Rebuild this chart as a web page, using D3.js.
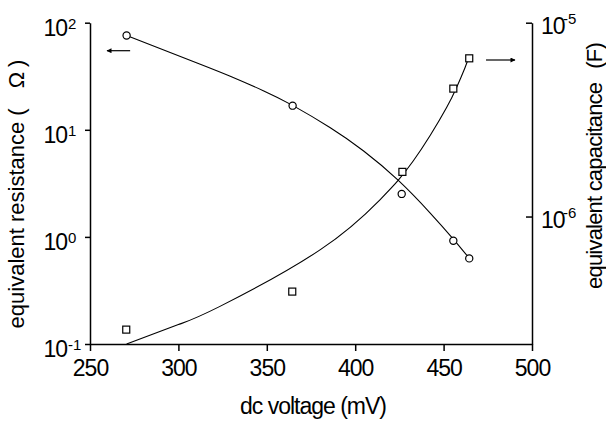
<!DOCTYPE html>
<meta charset="utf-8">
<script src="https://d3js.org/d3.v7.min.js"></script>
<style>
    body {
        margin: 0;
        padding: 0;
        background: #fff;
    }

    text {
        font-family: 'Liberation Sans', Arial, sans-serif;
        fill: #000;
    }
</style>

<body>
    <svg width="606" height="421"></svg>
    <script>

        // puntos medidos: resistencia (circulos) y capacitancia (cuadrados)
        var resVolt = [270.7, 364.6, 426.3, 455.5, 464.5];
        var resOhm = [76, 16.8, 2.52, 0.92, 0.63];
        var capVolt = [270.5, 364.4, 426.7, 455.5, 464.5];
        var capFar = [2.61e-7, 4.1e-7, 1.70e-6, 4.57e-6, 6.55e-6];

        // curvas de ajuste
        var resFitVolt = [270.7, 312, 329, 348, 364.6, 385.7, 404.6, 424.4, 442.3, 455.5, 464.5];
        var resFitOhm = [76, 41.2, 31.8, 23.2, 16.9, 10.5, 6.37, 3.37, 1.68, 0.955, 0.632];
        var capFitVolt = [270.7, 300, 323.5, 380.1, 414, 424.4, 432.9, 442.3, 451.7, 457.4, 462.1, 464.5];
        var capFitFar = [2.2e-7, 2.77e-7, 3.44e-7, 6.73e-7, 1.22e-6, 1.54e-6, 1.94e-6, 2.61e-6, 3.65e-6, 4.65e-6, 5.86e-6, 6.73e-6];

        // ticks
        var xTicks = [250, 300, 350, 400, 450, 500];
        var xMinor = [275, 325, 375, 425, 475];
        var leftExp = [-1, 0, 1, 2];
        var rightExp = [-6, -5];

        var svg = d3.select("svg");
        var pL = 90, pR = 532, pT = 22.7, pB = 344;

        var x = d3.scaleLinear().domain([250, 500]).range([pL, pR]);
        var yL = d3.scaleLog().domain([0.1, 100]).range([pB, pT]);
        var yR = d3.scaleLog().domain([2.2e-7, 1e-5]).range([pB, pT]);

        // ticks menores de las escalas log (2..9 por decada)
        function minorLog(scale) {
            var d = scale.domain(), out = [];
            var e0 = Math.floor(Math.log10(d[0])), e1 = Math.ceil(Math.log10(d[1]));
            for (var e = e0; e < e1; e++) {
                for (var m = 2; m < 10; m++) {
                    var v = m * Math.pow(10, e);
                    if (v >= d[0] && v <= d[1]) out.push(v);
                }
            }
            return out;
        }

        svg.append("clipPath").attr("id", "plot")
            .append("rect").attr("x", pL).attr("y", pT)
            .attr("width", pR - pL).attr("height", pB - pT);

        // eje x
        var gx = svg.append("g").attr("transform", "translate(0," + pB + ")");
        gx.call(d3.axisBottom(x).tickValues(xMinor).tickSize(4).tickFormat(""));
        gx.call(d3.axisBottom(x).tickValues(xTicks).tickSize(7).tickSizeOuter(0).tickPadding(9));
        gx.selectAll("text").style("font-size", "23px").style("letter-spacing", "-1px")
            .style("font-family", "'Liberation Sans', Arial, sans-serif");

        // eje izquierdo
        var gl = svg.append("g").attr("transform", "translate(" + pL + ",0)");
        gl.call(d3.axisLeft(yL).tickValues(minorLog(yL)).tickSize(3).tickFormat(""));
        gl.call(d3.axisLeft(yL).tickValues(leftExp.map(function (e) { return Math.pow(10, e); }))
            .tickSize(5).tickSizeOuter(0).tickFormat(""));

        // eje derecho, ticks hacia adentro
        var gr = svg.append("g").attr("transform", "translate(" + pR + ",0)");
        gr.call(d3.axisRight(yR).tickValues(minorLog(yR)).tickSize(-4).tickFormat(""));
        gr.call(d3.axisRight(yR).tickValues(rightExp.map(function (e) { return Math.pow(10, e); }))
            .tickSize(-6).tickSizeOuter(0).tickFormat(""));

        svg.selectAll(".domain, .tick line").attr("stroke", "#000").attr("stroke-width", 1.5);

        // etiquetas 10^n
        leftExp.forEach(function (e) {
            var y = yL(Math.pow(10, e));
            svg.append("text")
                .attr("x", 67).attr("y", y + 13)
                .attr("text-anchor", "end")
                .style("font-size", "23px").style("letter-spacing", "-1px")
                .text("10");
            svg.append("text")
                .attr("x", 68).attr("y", y + 6)
                .style("font-size", "15px")
                .text(e < 0 ? "-" + (-e) : e);
        });
        rightExp.forEach(function (e) {
            var y = yR(Math.pow(10, e));
            svg.append("text")
                .attr("x", 541).attr("y", y + 11)
                .style("font-size", "23px").style("letter-spacing", "-1px")
                .text("10");
            svg.append("text")
                .attr("x", 563).attr("y", y + 1)
                .style("font-size", "15px")
                .text("-" + (-e));
        });

        // titulos
        svg.append("text")
            .attr("x", 313).attr("y", 414)
            .attr("text-anchor", "middle")
            .style("font-size", "23px").style("letter-spacing", "-1px")
            .text("dc voltage (mV)");

        var tl = svg.append("text")
            .attr("transform", "translate(24,194) rotate(-90)")
            .attr("text-anchor", "middle")
            .style("font-size", "22px").style("letter-spacing", "0px");
        tl.append("tspan").text("equivalent resistance (");
        tl.append("tspan").attr("dx", 20).text("Ω");
        tl.append("tspan").attr("dx", 5).text(")");

        var tr = svg.append("text")
            .attr("transform", "translate(602,166) rotate(-90)")
            .attr("text-anchor", "middle")
            .style("font-size", "22px").style("letter-spacing", "-0.8px");
        tr.append("tspan").text("equivalent capacitance");
        tr.append("tspan").attr("dx", 14).text("(F)");

        // curvas de ajuste
        var lineR = d3.line()
            .x(function (d, i) { return x(resFitVolt[i]); })
            .y(function (d) { return yL(d); })
            .curve(d3.curveNatural);
        var lineC = d3.line()
            .x(function (d, i) { return x(capFitVolt[i]); })
            .y(function (d) { return yR(d); })
            .curve(d3.curveNatural);

        var g = svg.append("g").attr("clip-path", "url(#plot)");
        g.append("path").attr("d", lineR(resFitOhm))
            .attr("fill", "none").attr("stroke", "#000").attr("stroke-width", 1.1);
        g.append("path").attr("d", lineC(capFitFar))
            .attr("fill", "none").attr("stroke", "#000").attr("stroke-width", 1.1);

        // marcadores
        svg.selectAll(".res").data(resOhm).enter().append("circle")
            .attr("cx", function (d, i) { return x(resVolt[i]); })
            .attr("cy", function (d) { return yL(d); })
            .attr("r", 3.6)
            .attr("fill", "#fff").attr("stroke", "#000").attr("stroke-width", 1.2);
        svg.selectAll(".cap").data(capFar).enter().append("rect")
            .attr("x", function (d, i) { return x(capVolt[i]) - 3.5; })
            .attr("y", function (d) { return yR(d) - 3.5; })
            .attr("width", 7).attr("height", 7)
            .attr("fill", "#fff").attr("stroke", "#000").attr("stroke-width", 1.2);

        // flechas que indican el eje de cada curva
        var defs = svg.append("defs");
        defs.append("marker").attr("id", "head")
            .attr("viewBox", "0 0 10 10").attr("refX", 9).attr("refY", 5)
            .attr("markerWidth", 8).attr("markerHeight", 5)
            .attr("markerUnits", "userSpaceOnUse")
            .attr("orient", "auto")
            .append("path").attr("d", "M0,0L10,5L0,10z").attr("fill", "#000");

        svg.append("line")
            .attr("x1", x(272.7)).attr("y1", 50.7).attr("x2", x(259.6)).attr("y2", 50.7)
            .attr("stroke", "#000").attr("stroke-width", 1.2).attr("marker-end", "url(#head)");
        svg.append("line")
            .attr("x1", x(474)).attr("y1", 60).attr("x2", x(490.4)).attr("y2", 60)
            .attr("stroke", "#000").attr("stroke-width", 1.2).attr("marker-end", "url(#head)");
    </script>
</body>
